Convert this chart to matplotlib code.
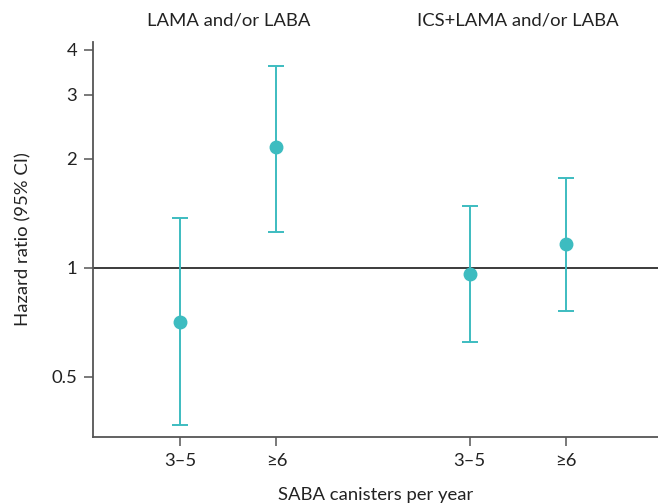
import matplotlib.pyplot as plt
from matplotlib.ticker import FixedLocator, FixedFormatter, NullLocator

plt.rcParams['font.family'] = ['Lato', 'DejaVu Sans']

# data
groups = ['LAMA and/or LABA', 'ICS+LAMA and/or LABA']
categories = ['3\u20135', '\u22656', '3\u20135', '\u22656']
x_pos = [0, 1, 3, 4]
hr = [0.71, 2.16, 0.96, 1.16]
ci_low = [0.367, 1.255, 0.625, 0.762]
ci_high = [1.37, 3.61, 1.477, 1.764]
y_ticks = [0.5, 1, 2, 3, 4]
y_labels = ['0.5', '1', '2', '3', '4']

teal = '#3dbcc0'
text_col = '#222222'
fs = 13.3

fig = plt.figure(figsize=(6.58, 5.04), dpi=100)
ax = fig.add_axes([0.1413, 0.1329, 0.8587, 0.7838])

ax.axhline(1, color='#1a1a1a', lw=1.2, zorder=1)

yerr = [[h - l for h, l in zip(hr, ci_low)], [u - h for h, u in zip(hr, ci_high)]]
ax.errorbar(x_pos, hr, yerr=yerr, fmt='o', color=teal, ms=9, elinewidth=1.4,
            capsize=5.5, capthick=1.4, zorder=3)

ax.set_yscale('log')
ax.set_ylim(0.341, 4.2)
ax.set_xlim(-0.9, 4.95)
ax.yaxis.set_major_locator(FixedLocator(y_ticks))
ax.yaxis.set_major_formatter(FixedFormatter(y_labels))
ax.yaxis.set_minor_locator(NullLocator())
ax.set_xticks(x_pos)
ax.set_xticklabels(categories)

for side in ['top', 'right']:
    ax.spines[side].set_visible(False)
for side in ['left', 'bottom']:
    ax.spines[side].set_color('#555555')
    ax.spines[side].set_linewidth(1.3)

ax.tick_params(axis='both', colors='#555555', length=6.5, width=1.1, labelsize=fs,
               labelcolor=text_col, pad=5)

ax.set_ylabel('Hazard ratio (95% CI)', fontsize=fs, color=text_col, labelpad=14)
ax.set_xlabel('SABA canisters per year', fontsize=fs, color=text_col, labelpad=13)

ax.text(0.5, 4.8, groups[0], ha='center', va='center', fontsize=fs, color=text_col)
ax.text(3.5, 4.8, groups[1], ha='center', va='center', fontsize=fs, color=text_col)

fig.savefig('out.png', dpi=100)
